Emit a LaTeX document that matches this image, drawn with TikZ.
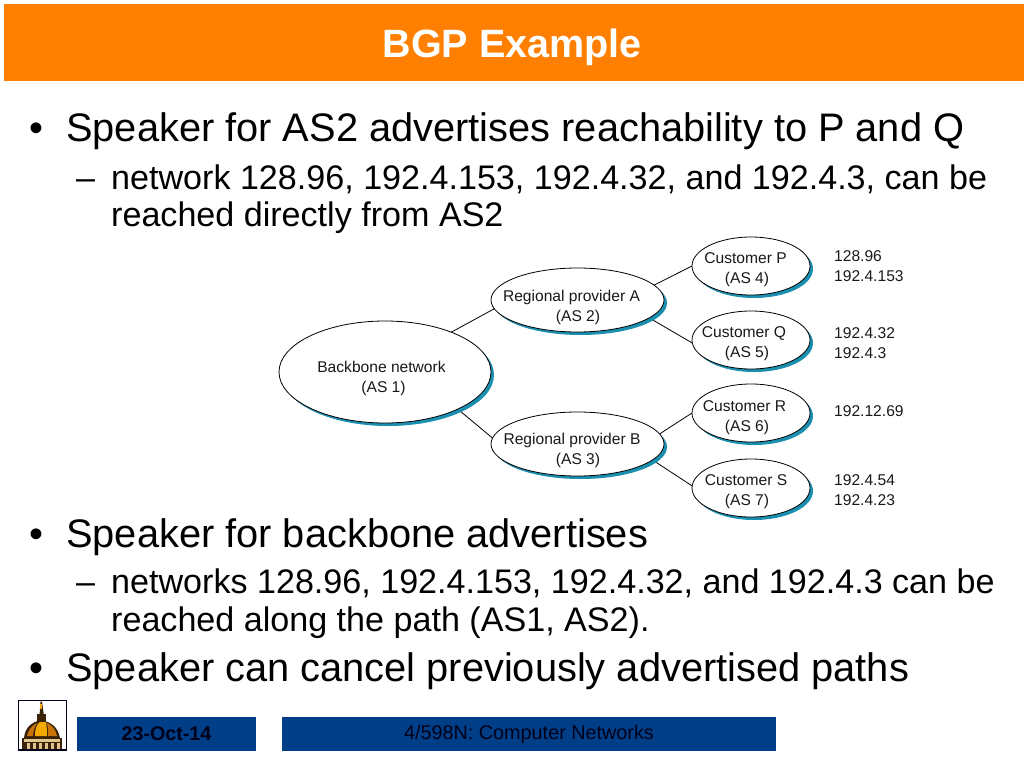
\documentclass[tikz,border=0pt]{standalone}
\usepackage{fontspec}
\setmainfont{Liberation Sans}
\usetikzlibrary{shapes.geometric,backgrounds}
\definecolor{banner}{HTML}{FF8000}
\definecolor{footblue}{HTML}{003F87}
\definecolor{shadowblue}{HTML}{1B8FB0}
\definecolor{footink}{HTML}{000018}
\definecolor{domegold}{HTML}{F2A900}
\definecolor{domeorange}{HTML}{C9740A}
\definecolor{domedark}{HTML}{3A2208}
\definecolor{domecream}{HTML}{E0C48A}
\newcommand{\fs}[1]{\fontsize{#1}{#1}\selectfont}
% dx1, dy1, line 1, dx2, dy2, line 2: baselines placed relative to the centre of the node
\newcommand{\twolines}[6]{\smash{\rlap{\raisebox{#2pt}{\hspace{#1pt}\makebox[0pt][c]{#3}}}\rlap{\raisebox{#5pt}{\hspace{#4pt}\makebox[0pt][c]{#6}}}}}
\tikzset{
  x=1pt,y=-1pt,
  cloud/.style={ellipse,draw=black,fill=white,line width=0.8pt,inner sep=0pt,outer sep=0pt,font=\fs{15.6},text=black!90},
  link/.style={draw=black,line width=0.8pt},
  bul/.style={anchor=base west,font=\fs{39.8},inner sep=0pt,text=black},
  sub/.style={anchor=base west,font=\fs{34.1},inner sep=0pt,text=black},
  nets/.style={anchor=base west,font=\fs{15.6},inner sep=0pt,text=black!90},
  bar/.style={fill=footblue,draw=none,inner sep=0pt,outer sep=0pt},
}
\newcommand{\shadowed}[6]{% name, cx, cy, rx, ry, text
  \fill[shadowblue] (#2+3,#3+3) ellipse [x radius=#4,y radius=#5];
  \node[cloud,minimum width=2*#4 pt,minimum height=2*#5 pt] (#1) at (#2,#3) {#6};
}
\begin{document}
\begin{tikzpicture}
\useasboundingbox (0,0) rectangle (1024,768);
\fill[banner] (4,4) rectangle (1024,81);
\node[anchor=base,inner sep=0pt,font=\fs{39.5}\bfseries,text=white] (head) at (512,58) {BGP Example};

\node[bul] (b1) at (29,141) {•};
\node[bul] (t1) at (66,141) {Speaker for AS2 advertises reachability to P and Q};
\node[sub] (d1) at (76,189) {–};
\node[sub] (t2) at (111,189) {network 128.96, 192.4.153, 192.4.32, and 192.4.3, can be};
\node[sub] (t3) at (111,226) {reached directly from AS2};
\node[bul] (b2) at (29,547) {•};
\node[bul] (t4) at (66,547) {Speaker for backbone advertises};
\node[sub] (d2) at (76,593) {–};
\node[sub] (t5) at (111,593) {networks 128.96, 192.4.153, 192.4.32, and 192.4.3 can be};
\node[sub] (t6) at (111,631) {reached along the path (AS1, AS2).};
\node[bul] (b3) at (29,681) {•};
\node[bul] (t7) at (66,681) {Speaker can cancel previously advertised paths};

\shadowed{as1}{385}{372}{106}{51}{\twolines{-3.5}{0}{Backbone network}{-1.5}{-20}{(AS 1)}}
\shadowed{as2}{577.5}{300}{86.5}{32}{\twolines{-6}{-1}{Regional provider A}{0.5}{-21}{(AS 2)}}
\shadowed{as3}{577.5}{444}{86.5}{32}{\twolines{-5.5}{0}{Regional provider B}{0.5}{-20}{(AS 3)}}
\shadowed{as4}{751}{266}{59}{29}{\twolines{-5.5}{3}{Customer P}{-4}{-17}{(AS 4)}}
\shadowed{as5}{751}{340}{59}{29}{\twolines{-7}{3}{Customer Q}{-4}{-17}{(AS 5)}}
\shadowed{as6}{751}{413}{59}{29}{\twolines{-6.5}{2}{Customer R}{-4}{-18}{(AS 6)}}
\shadowed{as7}{751}{488}{59}{29}{\twolines{-5}{2.5}{Customer S}{-4}{-17.5}{(AS 7)}}

\begin{scope}[on background layer]
\draw[link] (as1.31.6) -- (as2.186);
\draw[link] (as1.-27.5) -- (as3.176);
\draw[link] (as2.11.8) -- (as4.180);
\draw[link] (as2.-14.8) -- (as5.183);
\draw[link] (as3.7) -- (as6.180);
\draw[link] (as3.-12.5) -- (as7.178);
\end{scope}

\node[nets] (n1) at (834,261) {128.96};
\node[nets] (n2) at (834,281) {192.4.153};
\node[nets] (n3) at (834,338) {192.4.32};
\node[nets] (n4) at (834,358) {192.4.3};
\node[nets] (n5) at (834,416) {192.12.69};
\node[nets] (n6) at (834,485) {192.4.54};
\node[nets] (n7) at (834,505) {192.4.23};

% footer
\node[bar,minimum width=179pt,minimum height=34pt,anchor=north west,font=\fs{19.7}\bfseries,text=footink] (date) at (77,717) {\raisebox{-1pt}{23-Oct-14}};
\node[bar,minimum width=494pt,minimum height=34pt,anchor=north west,font=\fs{19.8},text=footink] (course) at (282,717) {\raisebox{-1pt}{4/598N: Computer Networks}};

% dome emblem
\draw[draw=footink,line width=0.8pt,fill=white] (18.5,700.5) rectangle (66.5,750);
\fill[footink] (18,749) rectangle (67,750.5);
\fill[domedark] (39.5,716) -- (40.5,701.5) -- (42,701.5) -- (44,716) -- cycle;
\fill[domegold] (40.3,704) rectangle (41.8,709);
\fill[domedark] (37,714) rectangle (46,722);
\fill[domedark] (24,738) .. controls (25,727) and (32,722) .. (41,720) .. controls (51,722) and (58,727) .. (60,738) -- cycle;
\fill[domegold] (35,736) .. controls (35,728) and (37,724) .. (40,722) -- (46,722) .. controls (47,727) and (47,732) .. (47,736) -- cycle;
\fill[domeorange] (48,736) .. controls (48,731) and (48,727) .. (47,723) .. controls (52,725) and (56,730) .. (57,736) -- cycle;
\fill[domeorange] (27,736) .. controls (28,731) and (31,726) .. (37,723) .. controls (35,727) and (33,731) .. (33,736) -- cycle;
\fill[domedark] (22,738) rectangle (62,749);
\fill[domecream] (24,739) rectangle (60,741.5);
\foreach \cx in {27,33,39,45,51,57}
  \fill[domecream] (\cx,743) rectangle (\cx+3,749);
\end{tikzpicture}
\end{document}
